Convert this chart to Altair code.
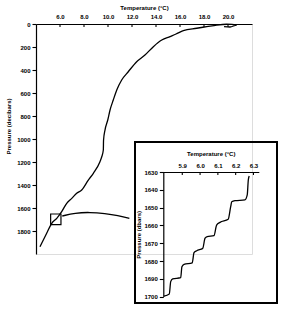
import altair as alt
import pandas as pd

# ---- main profile (temperature °C vs pressure decibars) ----
main_temp = [4.33, 4.89, 5.31, 5.73, 6.14, 6.56, 6.98, 7.39, 7.81, 8.36, 8.78, 9.33, 9.48,
             9.61, 9.63, 9.75, 9.98, 10.17, 10.44, 10.73, 11.14, 11.69, 12.39, 13.08, 13.78,
             14.48, 15.17, 15.67, 16.28, 17.39, 18.23, 19.06, 19.89, 20.33, 20.73, 20.17, 19.67]
main_pres = [1937, 1820, 1733, 1690, 1632, 1559, 1516, 1472, 1443, 1357, 1298, 1197, 1154,
             1096, 1009, 922, 835, 748, 661, 574, 487, 415, 328, 270, 197,
             139, 109, 87, 57, 37, 23, 9, 2, 4, 9, 26, 22]

# zoom box drawn on the main profile
box_temp = [5.22, 6.08]
box_pres = [1652, 1745]

# connector arc
arc_temp = [6.19, 7.25, 8.5, 9.75, 10.83, 11.78]
arc_pres = [1670, 1643, 1637, 1648, 1665, 1690]

# ---- inset staircase ----
inset_temp = [5.797, 5.827, 5.835, 5.846, 5.891, 5.898, 5.910, 5.956, 5.966, 5.981, 6.015,
              6.028, 6.040, 6.078, 6.093, 6.112, 6.158, 6.172, 6.178, 6.196, 6.252, 6.265,
              6.271, 6.276]
inset_pres = [1699.7, 1698.5, 1691.6, 1690.1, 1689.4, 1683.2, 1681.9, 1681.0, 1675.3, 1674.2,
              1672.9, 1667.2, 1666.3, 1665.8, 1659.8, 1658.3, 1656.6, 1649.5, 1646.7, 1646.1,
              1645.7, 1642.9, 1634.5, 1632.2]

main_xticks = [6, 8, 10, 12, 14, 16, 18, 20]
main_yticks = [0, 200, 400, 600, 800, 1000, 1200, 1400, 1600, 1800]
inset_xticks = [5.9, 6.0, 6.1, 6.2, 6.3]
inset_yticks = [1630, 1640, 1650, 1660, 1670, 1680, 1690, 1700]

FONT = "Liberation Sans"

df_main = pd.DataFrame({"T": main_temp, "P": main_pres, "i": list(range(len(main_temp)))})
df_box = pd.DataFrame({"T": [box_temp[0]], "T2": [box_temp[1]], "P": [box_pres[0]], "P2": [box_pres[1]]})
df_arc = pd.DataFrame({"T": arc_temp, "P": arc_pres})
df_mxt = pd.DataFrame({"T": main_xticks})
df_inset = pd.DataFrame({"T": inset_temp, "P": inset_pres, "i": list(range(len(inset_temp)))})
df_ixt = pd.DataFrame({"T": inset_xticks})

axis_style = dict(labelFont=FONT, labelFontSize=6, labelFontWeight="bold", labelColor="black",
                  titleFont=FONT, titleFontSize=6, titleFontWeight="bold", titleColor="black",
                  domainColor="black", domainWidth=1.2, tickColor="black", tickWidth=1.1,
                  grid=False)

mx = alt.X("T:Q",
           scale=alt.Scale(domain=[4, 22], nice=False, zero=False),
           axis=alt.Axis(orient="top", values=main_xticks, format=".1f",
                         title="Temperature (°C)", ticks=False, labelPadding=5,
                         titlePadding=3, **axis_style))
my = alt.Y("P:Q",
           scale=alt.Scale(domain=[0, 2000], reverse=True, nice=False, zero=False),
           axis=alt.Axis(orient="left", values=main_yticks, format="d", title="Pressure (decibars)",
                         tickSize=4, labelPadding=2, titlePadding=5, titleY=102, **axis_style))

curve = alt.Chart(df_main).mark_line(color="black", strokeWidth=1.3, interpolate="monotone").encode(
    x=mx, y=my, order="i:Q")
box = alt.Chart(df_box).mark_rect(fillOpacity=0, stroke="black", strokeWidth=1.2).encode(
    x=mx, x2="T2:Q", y=my, y2="P2:Q")
arc = alt.Chart(df_arc).mark_line(color="black", strokeWidth=1.4, interpolate="basis").encode(
    x=mx, y=my)
mticks = alt.Chart(df_mxt).mark_rule(color="black", strokeWidth=1.1).encode(
    x=mx, y=alt.value(0), y2=alt.value(3))

main = alt.layer(curve, box, arc, mticks)

ix = alt.X("T:Q",
           scale=alt.Scale(domain=[5.79, 6.33], range=[126.7, 222.8], nice=False, zero=False),
           axis=alt.Axis(orient="top", offset=-148, values=inset_xticks, format=".1f",
                         title="Temperature (°C)", ticks=False, labelPadding=4,
                         titlePadding=6, zindex=1, **axis_style))
iy = alt.Y("P:Q",
           scale=alt.Scale(domain=[1630, 1700], range=[148, 272.6], nice=False, zero=False),
           axis=alt.Axis(orient="left", offset=-127.3, values=inset_yticks, format="d",
                         title="Pressure (dbars)", tickSize=4, labelPadding=2,
                         titlePadding=2, zindex=1, **axis_style))

frame = alt.Chart(df_ixt).mark_rect(fillOpacity=0, stroke="black", strokeWidth=1.5).encode(
    x=alt.value(99), x2=alt.value(241), y=alt.value(118), y2=alt.value(279))
steps = alt.Chart(df_inset).mark_line(color="black", strokeWidth=1.3, interpolate="monotone").encode(
    x=ix, y=iy, order="i:Q")
iticks = alt.Chart(df_ixt).mark_rule(color="black", strokeWidth=1.1).encode(
    x=ix, y=alt.value(148), y2=alt.value(151))

inset = alt.layer(frame, steps, iticks)

chart = alt.layer(main, inset).resolve_scale(x="independent", y="independent").properties(
    width=216, height=230,
    autosize=alt.AutoSizeParams(type="none"),
    padding={"left": 36, "top": 24, "right": 38, "bottom": 55},
).configure_view(stroke=None).configure(background="white")

chart.save("out.html", embed_options={"renderer": "svg", "actions": False})
